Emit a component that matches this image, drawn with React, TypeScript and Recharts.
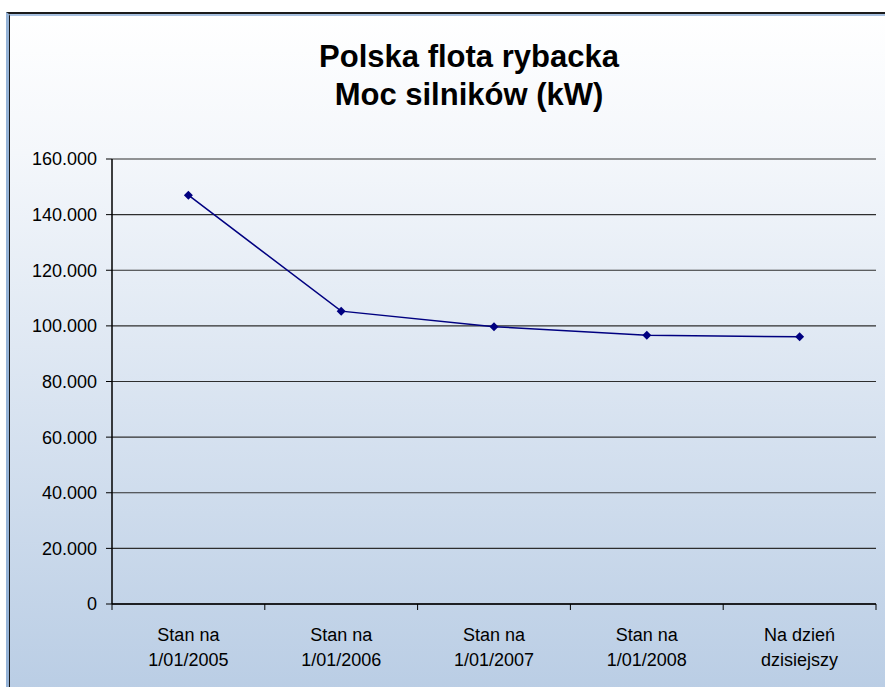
import { CartesianGrid, Line, LineChart, XAxis, YAxis } from "recharts";

const categories = [
  ["Stan na", "1/01/2005"],
  ["Stan na", "1/01/2006"],
  ["Stan na", "1/01/2007"],
  ["Stan na", "1/01/2008"],
  ["Na dzień", "dzisiejszy"],
];
const slots = [0, 1, 2, 3, 4];
const slotEdges = [-0.5, 0.5, 1.5, 2.5, 3.5, 4.5];
const enginePower = [147000, 105300, 99700, 96600, 96100];
const yTicks = [0, 20000, 40000, 60000, 80000, 100000, 120000, 140000, 160000];

const data = slots.map((pos, i) => ({ pos, power: enginePower[i] }));
const xTicks = [...slotEdges, ...slots].sort((a, b) => a - b);

const font = "'Liberation Sans', Arial, sans-serif";
const fmt = (v: number) => String(v).replace(/\B(?=(\d{3})+(?!\d))/g, ".");

// edges get a short tick mark, centres get the two-line category label
function CategoryTick({ x, y, payload }: any) {
  const v = payload?.value;
  if (!Number.isInteger(v)) {
    return <line x1={x} x2={x} y1={y} y2={y + 6} stroke="#000" strokeWidth={1} />;
  }
  const lines = categories[v] ?? [];
  return (
    <text x={x} y={y} textAnchor="middle" fontSize={18} fill="#000" fontFamily={font}>
      {lines.map((t, i) => (
        <tspan key={i} x={x} dy={i === 0 ? 37 : 25}>
          {t}
        </tspan>
      ))}
    </text>
  );
}

function Diamond(p: any) {
  const { cx, cy, index } = p;
  const r = 4.5;
  return (
    <path
      key={`dot-${index}`}
      d={`M${cx},${cy - r}L${cx + r},${cy}L${cx},${cy + r}L${cx - r},${cy}Z`}
      fill="#000080"
    />
  );
}

export default function App() {
  return (
    <div
      style={{
        position: "fixed",
        left: 0,
        top: 0,
        width: 885,
        height: 687,
        overflow: "hidden",
        background: "#fff",
        fontFamily: font,
      }}
    >
      <div
        style={{
          position: "absolute",
          left: 6,
          top: 12,
          right: -20,
          bottom: -20,
          borderTop: "2px solid #1b1b1b",
          borderLeft: "3px solid #95b3d7",
          background: "linear-gradient(#ffffff 0%, #f4f7fb 20%, #b8cce4 100%)",
        }}
      />
      <div
        style={{
          position: "absolute",
          left: 9,
          top: 14,
          right: -20,
          bottom: -20,
          borderTop: "2px solid #a7c0e0",
          borderLeft: "1px solid #1b1b1b",
        }}
      />
      <div
        style={{
          position: "absolute",
          left: 0,
          top: 38,
          width: 938,
          textAlign: "center",
          fontWeight: "bold",
          fontSize: 31,
          lineHeight: "38px",
          color: "#000",
        }}
      >
        Polska flota rybacka
        <br />
        Moc silników (kW)
      </div>
      <div style={{ position: "absolute", left: 0, top: 0 }}>
        <LineChart
          width={885}
          height={687}
          data={data}
          margin={{ top: 159, right: 9, bottom: 0, left: 0 }}
        >
          <CartesianGrid vertical={false} stroke="#2e2e2e" strokeWidth={1.2} />
          <XAxis
            type="number"
            dataKey="pos"
            domain={[-0.5, 4.5]}
            ticks={xTicks}
            interval={0}
            allowDataOverflow
            height={83}
            tickSize={0}
            tickMargin={0}
            tickLine={false}
            axisLine={{ stroke: "#000", strokeWidth: 1.5 }}
            tick={<CategoryTick />}
          />
          <XAxis
            xAxisId="top"
            orientation="top"
            type="number"
            domain={[0, 1]}
            height={0}
            tick={false}
            tickLine={false}
            axisLine={{ stroke: "#8a8a8a", strokeWidth: 2 }}
          />
          <YAxis
            domain={[0, 160000]}
            ticks={yTicks}
            interval={0}
            width={112}
            tickFormatter={fmt}
            tickSize={6}
            tickMargin={9}
            axisLine={{ stroke: "#000", strokeWidth: 1.5 }}
            tickLine={{ stroke: "#000" }}
            tick={{ fontSize: 18, fill: "#000", fontFamily: font }}
          />
          <YAxis
            yAxisId="right"
            orientation="right"
            domain={[0, 1]}
            width={0}
            tick={false}
            tickLine={false}
            axisLine={{ stroke: "#8a8a8a", strokeWidth: 2 }}
          />
          <Line
            dataKey="power"
            stroke="#000080"
            strokeWidth={1.5}
            dot={Diamond}
            activeDot={false}
            isAnimationActive={false}
          />
        </LineChart>
      </div>
    </div>
  );
}
